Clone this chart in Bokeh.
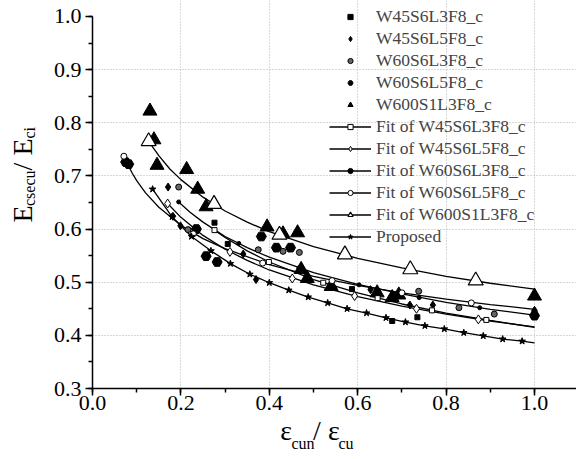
from bokeh.plotting import figure
from bokeh.models import (Range1d, SingleIntervalTicker, FixedTicker, PrintfTickFormatter,
                          Legend, LegendItem, LinearAxis)
from bokeh.embed import file_html
from bokeh.resources import INLINE

FONT = "'Liberation Serif', 'Times New Roman', serif"

# ---------------- data ----------------
w45l3_x = [0.276, 0.306, 0.587, 0.678, 0.735, 1.0]
w45l3_y = [0.612, 0.572, 0.487, 0.427, 0.434, 0.442]

w45l5_x = [0.171, 0.182, 0.199, 0.341, 0.370, 0.629, 0.718, 0.770, 1.0]
w45l5_y = [0.679, 0.624, 0.606, 0.553, 0.505, 0.486, 0.457, 0.457, 0.447]

w60l3_x = [0.195, 0.216, 0.375, 0.431, 0.468, 0.738, 0.829, 0.909, 1.0]
w60l3_y = [0.679, 0.599, 0.561, 0.558, 0.556, 0.483, 0.452, 0.440, 0.437]

w60l5_x = [0.075, 0.082, 0.235, 0.257, 0.282, 0.382, 0.416, 0.448, 1.0]
w60l5_y = [0.726, 0.722, 0.600, 0.549, 0.538, 0.586, 0.565, 0.565, 0.437]

w600_x = [0.130, 0.139, 0.146, 0.213, 0.238, 0.257, 0.395, 0.431, 0.464, 0.472,
          0.486, 0.540, 0.644, 0.678, 0.693, 1.0]
w600_y = [0.822, 0.768, 0.720, 0.712, 0.675, 0.642, 0.604, 0.591, 0.593, 0.524,
          0.507, 0.492, 0.480, 0.471, 0.476, 0.474]

# fit curves and their marker positions
fit45l3_x = [0.276, 0.30, 0.35, 0.40, 0.50, 0.60, 0.70, 0.80, 0.90, 1.0]
fit45l3_y = [0.598, 0.584, 0.559, 0.538, 0.505, 0.480, 0.459, 0.442, 0.428, 0.415]
fit45l3_mx = [0.276, 0.399, 0.522, 0.645, 0.768, 0.891]
fit45l3_my = [0.598, 0.538, 0.499, 0.470, 0.447, 0.429]

fit45l5_x = [0.170, 0.20, 0.25, 0.30, 0.35, 0.40, 0.50, 0.60, 0.70, 0.80, 0.90, 1.0]
fit45l5_y = [0.648, 0.622, 0.588, 0.562, 0.541, 0.523, 0.495, 0.473, 0.455, 0.440, 0.427, 0.416]
fit45l5_mx = [0.170, 0.311, 0.452, 0.593, 0.733, 0.873]
fit45l5_my = [0.648, 0.557, 0.507, 0.474, 0.450, 0.430]

fit60l3_x = [0.195, 0.22, 0.25, 0.30, 0.35, 0.40, 0.50, 0.60, 0.70, 0.80, 0.90, 1.0]
fit60l3_y = [0.651, 0.632, 0.613, 0.586, 0.565, 0.547, 0.518, 0.496, 0.478, 0.462, 0.449, 0.438]
fit60l3_mx = [0.195, 0.331, 0.467, 0.603, 0.739, 0.876]
fit60l3_my = [0.651, 0.573, 0.527, 0.495, 0.471, 0.452]

fit60l5_x = [0.071, 0.08, 0.09, 0.10, 0.12, 0.15, 0.20, 0.25, 0.30, 0.40, 0.50,
             0.60, 0.70, 0.80, 0.90, 1.0]
fit60l5_y = [0.737, 0.721, 0.705, 0.691, 0.668, 0.641, 0.607, 0.582, 0.563, 0.533, 0.511,
             0.494, 0.480, 0.468, 0.458, 0.449]
fit60l5_mx = [0.071, 0.228, 0.385, 0.542, 0.700, 0.857]
fit60l5_my = [0.737, 0.591, 0.536, 0.503, 0.480, 0.461]

fit600_x = [0.127, 0.15, 0.175, 0.20, 0.25, 0.30, 0.35, 0.40, 0.50, 0.60, 0.70, 0.80, 0.90, 1.0]
fit600_y = [0.765, 0.738, 0.713, 0.693, 0.660, 0.634, 0.613, 0.595, 0.567, 0.545, 0.527,
            0.511, 0.498, 0.487]
fit600_mx = [0.127, 0.275, 0.423, 0.571, 0.719, 0.867]
fit600_my = [0.765, 0.647, 0.589, 0.552, 0.524, 0.503]

prop_x = [0.136, 0.180, 0.224, 0.268, 0.312, 0.356, 0.400, 0.444, 0.488, 0.532,
          0.576, 0.620, 0.664, 0.708, 0.752, 0.796, 0.840, 0.884, 0.928, 0.972]
prop_y = [0.675, 0.623, 0.586, 0.559, 0.535, 0.515, 0.499, 0.485, 0.472, 0.461,
          0.450, 0.442, 0.433, 0.425, 0.418, 0.412, 0.405, 0.399, 0.393, 0.389]
prop_end_x = [1.0]
prop_end_y = [0.386]

x_ticks_grid = [0.2, 0.4, 0.6, 0.8, 1.0]
y_ticks_grid = [0.4, 0.5, 0.6, 0.7, 0.8, 0.9]

NB = "\u00a0"
# axis titles: main letters and subscripts (aligned by no-break spaces)
y_title_main = NB * 6 + "E" + NB * 5 + "/" + NB + "E" + NB * 2
y_title_sub = NB * 14 + "csecu" + NB * 8 + "ci"
x_title_main = "ε" + NB * 3 + "/" + NB + "ε" + NB * 2 + NB * 5
x_title_sub = "cun" + NB * 6 + "cu" + NB * 6

# ---------------- figure ----------------
p = figure(width=576, height=459, x_range=Range1d(0, 1.095), y_range=Range1d(0.3, 1.030),
           output_backend="svg", toolbar_location=None,
           min_border_left=92, min_border_right=0, min_border_top=0, min_border_bottom=71)
p.outline_line_color = None

p.xaxis.ticker = SingleIntervalTicker(interval=0.2, num_minor_ticks=2)
p.yaxis.ticker = SingleIntervalTicker(interval=0.1, num_minor_ticks=2)
p.yaxis.bounds = (0.3, 1.0001)
for ax in (p.xaxis[0], p.yaxis[0]):
    ax.formatter = PrintfTickFormatter(format="%.1f")
    ax.major_label_text_font = FONT
    ax.major_label_text_font_size = "22px"
    ax.major_label_text_color = "black"
    ax.axis_line_width = 1.5
    ax.major_tick_line_width = 1.5
    ax.minor_tick_line_width = 1.5
    ax.major_tick_out = 7
    ax.major_tick_in = 0
    ax.minor_tick_out = 4
    ax.minor_tick_in = 0
    ax.axis_label_text_font = FONT
    ax.axis_label_text_font_style = "normal"
    ax.axis_label_text_color = "black"
p.xaxis.major_label_standoff = 0
p.yaxis.major_label_standoff = 4

# y: subscripts on the main axis, main letters on an outer label-only axis
p.yaxis.axis_label = y_title_sub
p.yaxis.axis_label_text_font_size = "16px"
p.yaxis.axis_label_standoff = 13
# x: main letters on the main axis, subscripts on an outer label-only axis
p.xaxis.axis_label = x_title_main
p.xaxis.axis_label_text_font_size = "28px"
p.xaxis.axis_label_standoff = 2


def label_axis(text, size, standoff):
    a = LinearAxis(ticker=FixedTicker(ticks=[]), axis_line_color=None,
                   major_tick_line_color=None, minor_tick_line_color=None,
                   major_tick_out=0, minor_tick_out=0, major_label_text_font_size="0px",
                   axis_label=text, axis_label_text_font=FONT,
                   axis_label_text_font_size=size, axis_label_text_font_style="normal",
                   axis_label_text_color="black", axis_label_standoff=standoff)
    return a


p.add_layout(label_axis(y_title_main, "28px", -20), "left")
p.add_layout(label_axis(x_title_sub, "16px", -14), "below")

p.xgrid.ticker = FixedTicker(ticks=x_ticks_grid)
p.ygrid.ticker = FixedTicker(ticks=y_ticks_grid)
for g in (p.xgrid[0], p.ygrid[0]):
    g.grid_line_color = "#b0b0b0"
    g.grid_line_dash = "1 2"
    g.grid_line_width = 1

LW = 1.3
# fit lines
l45l3 = p.line(fit45l3_x, fit45l3_y, line_color="black", line_width=LW)
l45l5 = p.line(fit45l5_x, fit45l5_y, line_color="black", line_width=LW)
l60l3 = p.line(fit60l3_x, fit60l3_y, line_color="black", line_width=LW)
l60l5 = p.line(fit60l5_x, fit60l5_y, line_color="black", line_width=LW)
l600 = p.line(fit600_x, fit600_y, line_color="black", line_width=LW)
lprop = p.line(prop_x + prop_end_x, prop_y + prop_end_y, line_color="black", line_width=LW)

# data points
s45l3 = p.scatter(w45l3_x, w45l3_y, marker="square", size=5, fill_color="black", line_color="black")
s45l5 = p.scatter(w45l5_x, w45l5_y, marker="diamond", size=8, fill_color="black", line_color="black")
s60l3 = p.scatter(w60l3_x, w60l3_y, marker="circle", size=6, fill_color="#666666", line_color="black", line_width=1)
s60l5 = p.scatter(w60l5_x, w60l5_y, marker="hex", size=10, fill_color="black", line_color="black")
s600 = p.scatter(w600_x, w600_y, marker="triangle", size=14, fill_color="black", line_color="black")

# fit markers
m45l3 = p.scatter(fit45l3_mx, fit45l3_my, marker="square", size=5, fill_color="white", line_color="black")
m45l5 = p.scatter(fit45l5_mx, fit45l5_my, marker="diamond", size=9, fill_color="white", line_color="black")
m60l3 = p.scatter(fit60l3_mx, fit60l3_my, marker="circle", size=4, fill_color="black", line_color="black")
m60l5 = p.scatter(fit60l5_mx, fit60l5_my, marker="circle", size=6, fill_color="white", line_color="black")
m600 = p.scatter(fit600_mx, fit600_my, marker="triangle", size=15, fill_color="white", line_color="black", line_width=1.2)
mprop = p.scatter(prop_x, prop_y, marker="star", size=7, fill_color="black", line_color="black")

items = [
    LegendItem(label="W45S6L3F8_c", renderers=[s45l3]),
    LegendItem(label="W45S6L5F8_c", renderers=[s45l5]),
    LegendItem(label="W60S6L3F8_c", renderers=[s60l3]),
    LegendItem(label="W60S6L5F8_c", renderers=[s60l5]),
    LegendItem(label="W600S1L3F8_c", renderers=[s600]),
    LegendItem(label="Fit of W45S6L3F8_c", renderers=[l45l3, m45l3]),
    LegendItem(label="Fit of W45S6L5F8_c", renderers=[l45l5, m45l5]),
    LegendItem(label="Fit of W60S6L3F8_c", renderers=[l60l3, m60l3]),
    LegendItem(label="Fit of W60S6L5F8_c", renderers=[l60l5, m60l5]),
    LegendItem(label="Fit of W600S1L3F8_c", renderers=[l600, m600]),
    LegendItem(label="Proposed", renderers=[lprop, mprop]),
]
legend = Legend(items=items, location=(237, 141), padding=0, margin=0, spacing=1,
                glyph_height=13, glyph_width=42, label_height=21, label_standoff=5,
                label_text_font=FONT, label_text_font_size="17.5px",
                background_fill_alpha=0, border_line_alpha=0)
p.add_layout(legend, "center")

open("out.html", "w").write(file_html(p, INLINE))
